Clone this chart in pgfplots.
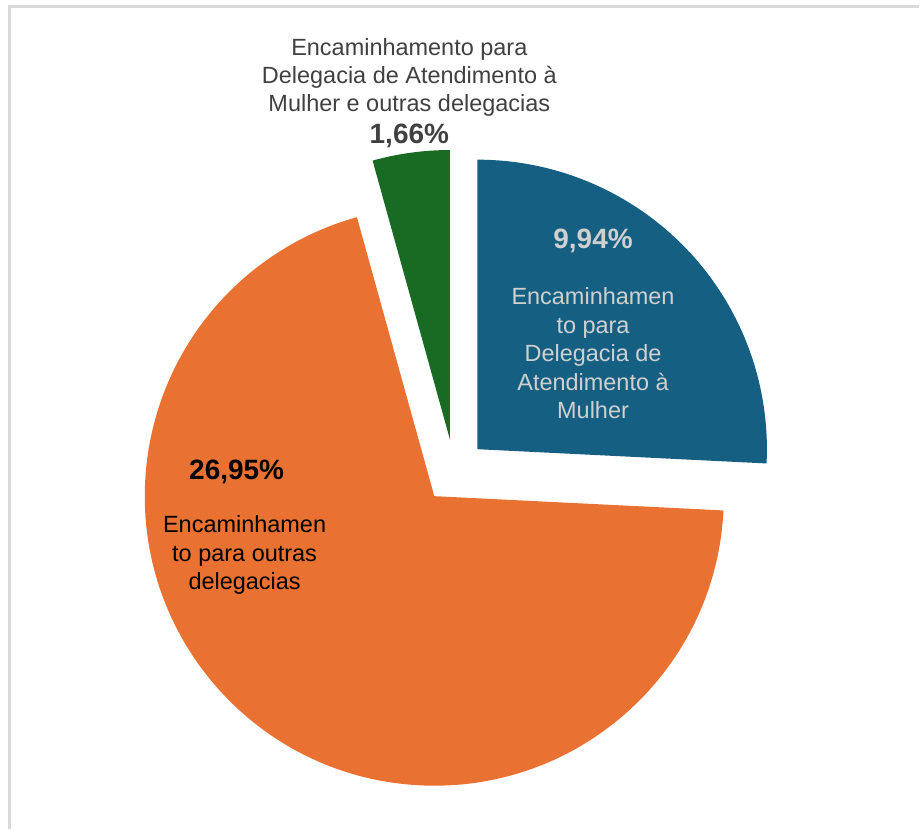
\documentclass[border=0pt]{standalone}
\usepackage{pgfplots}
\pgfplotsset{compat=1.18}
\usepackage{pgfplotstable}
\usepackage{fontspec}
\setmainfont{Liberation Sans}

\definecolor{sliceblue}{HTML}{156082}
\definecolor{sliceorange}{HTML}{E97132}
\definecolor{slicegreen}{HTML}{196B24}
\definecolor{framegray}{HTML}{D9D9D9}
\definecolor{lighttext}{HTML}{D0D0D0}
\definecolor{darktext}{HTML}{404040}

% share of each kind of referral (%), clockwise from 12 o'clock
\pgfplotstableread{
value color
9.94  sliceblue
26.95 sliceorange
1.66  slicegreen
}\piedata

\begin{document}
\begin{tikzpicture}
\begin{axis}[
    x=1pt, y=1pt,
    xmin=0, xmax=920, ymin=0, ymax=830,
    hide axis, clip=false,
]
% page frame
\path (axis cs:0,0) rectangle (axis cs:920,830);
\draw[framegray, line width=3pt] (axis cs:10,0) -- (axis cs:10,823) -- (axis cs:920,823);

% wedges, each pulled out along its bisector
\pgfplotstablegetrowsof{\piedata}
\pgfmathtruncatemacro\nrows{\pgfplotsretval-1}
\def\total{0}
\pgfplotsforeachungrouped \i in {0,...,\nrows} {
    \pgfplotstablegetelem{\i}{value}\of\piedata
    \pgfmathsetmacro\total{\total+\pgfplotsretval}
}
\def\startangle{90}
\pgfplotsforeachungrouped \i in {0,...,\nrows} {
    \pgfplotstablegetelem{\i}{value}\of\piedata
    \let\sliceval\pgfplotsretval
    \pgfplotstablegetelem{\i}{color}\of\piedata
    \let\slicecol\pgfplotsretval
    \pgfmathsetmacro\endangle{\startangle-360*\sliceval/\total}
    \pgfmathsetmacro\midangle{(\startangle+\endangle)/2}
    \pgfmathsetmacro\cx{455+32*cos(\midangle)}
    \pgfmathsetmacro\cy{358+32*sin(\midangle)}
    \edef\cmd{\noexpand\fill[\slicecol] (axis cs:\cx,\cy) -- ++(\startangle:290pt)
        arc[start angle=\startangle, end angle=\endangle, radius=290pt] -- cycle;}
    \cmd
    \global\let\startangle\endangle
}

% labels
\node[lighttext, font=\fontsize{28}{32}\selectfont\bfseries] at (axis cs:594,589) {9,94\%};
\node[lighttext, align=center, font=\fontsize{23.5}{28.5}\selectfont] at (axis cs:594,476)
    {Encaminhamen\\to para\\Delegacia de\\Atendimento à\\Mulher};

\node[black, font=\fontsize{28}{32}\selectfont\bfseries] at (axis cs:237,357) {26,95\%};
\node[black, align=center, font=\fontsize{23.5}{28.5}\selectfont] at (axis cs:245,274)
    {Encaminhamen\\to para outras\\delegacias};

\node[darktext, align=center, font=\fontsize{23.5}{28}\selectfont] at (axis cs:410,752)
    {Encaminhamento para\\Delegacia de Atendimento à\\Mulher e outras delegacias};
\node[darktext, font=\fontsize{28}{32}\selectfont\bfseries] at (axis cs:410,694) {1,66\%};
\end{axis}
\end{tikzpicture}
\end{document}
